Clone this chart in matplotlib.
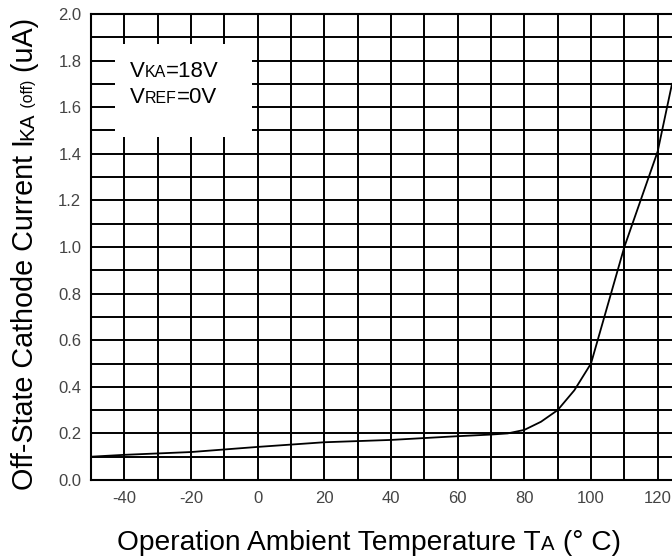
import numpy as np
import matplotlib
matplotlib.use("Agg")
import matplotlib.pyplot as plt
from matplotlib.patches import Rectangle

plt.rcParams['font.family'] = ['Liberation Sans', 'DejaVu Sans']

# curve
temp = [-50, -40, -20, 0, 20, 40, 60, 70, 75, 80, 85, 90, 95, 100, 110, 120, 124.3]
current = [0.10, 0.108, 0.12, 0.142, 0.162, 0.172, 0.188, 0.195, 0.2, 0.215, 0.25,
           0.30, 0.385, 0.5, 1.0, 1.41, 1.70]

x_ticks = [-40, -20, 0, 20, 40, 60, 80, 100, 120]
y_ticks = [0.0, 0.2, 0.4, 0.6, 0.8, 1.0, 1.2, 1.4, 1.6, 1.8, 2.0]

W, H = 672, 558
fig = plt.figure(figsize=(W / 100, H / 100), dpi=100)
ax = fig.add_axes([91 / W, 1 - 480 / H, 1 - 91 / W, (480 - 14) / H])

ax.plot(temp, current, color='black', lw=1.3, zorder=3)

ax.set_xlim(-50, 124.3)
ax.set_ylim(0, 2.0)
ax.set_xticks(x_ticks)
ax.set_xticklabels([str(t) for t in x_ticks])
ax.set_yticks(y_ticks)
ax.set_yticklabels(['%.1f' % v for v in y_ticks])
ax.set_xticks(np.arange(-40, 125, 10), minor=True)
ax.set_yticks(np.arange(0.1, 2.0, 0.1), minor=True)
ax.tick_params(which='both', length=0, labelsize=12, labelcolor='#444444')
ax.tick_params(axis='x', pad=8)
ax.tick_params(axis='y', pad=7)
ax.set_axisbelow(True)
ax.grid(True, which='both', color='black', lw=1.4)
ax.spines['right'].set_visible(False)
for s in ['left', 'bottom', 'top']:
    ax.spines[s].set_linewidth(1.5)

# white box behind the conditions text
ax.add_patch(Rectangle((-42.8, 1.47), 41.1, 0.40, facecolor='white',
                       edgecolor='none', zorder=2.5))

renderer = fig.canvas.get_renderer()


def rich_text(x, y, pieces, base, rotation=0, target=None, anchor='left'):
    # pieces: (text, relative size); x, y in figure pixels (baseline start)
    def layout(size, draw):
        pos = 0
        made = []
        for s, k in pieces:
            if rotation:
                t = fig.text(x / W, (y + pos) / H, s, fontsize=size * k,
                             ha='left', va='baseline', rotation=90,
                             rotation_mode='anchor')
                pos += t.get_window_extent(renderer).height
            else:
                t = fig.text((x + pos) / W, y / H, s, fontsize=size * k,
                             ha='left', va='baseline')
                pos += t.get_window_extent(renderer).width
            made.append(t)
        if not draw:
            for t in made:
                t.remove()
        return pos

    size = base
    if target:
        size = base * target / layout(base, False)
    if anchor == 'center':
        total = layout(size, False)
        if rotation:
            y = y - total / 2
        else:
            x = x - total / 2
    layout(size, True)


# conditions
rich_text(130, H - 77, [('V', 1), ('KA', 0.72), ('=18V', 1)], 16)
rich_text(130, H - 103, [('V', 1), ('REF', 0.72), ('=0V', 1)], 16)

# axis labels
rich_text(369, H - 550, [('Operation Ambient Temperature T', 1), ('A', 0.72),
                         (' (\u00b0 C)', 1)], 18, target=502, anchor='center')
rich_text(33, H - 254, [('Off-State Cathode Current I', 1), ('KA', 0.72),
                        (' (off)', 0.55), (' (uA)', 1)], 20, rotation=90,
          target=472, anchor='center')

fig.savefig('out.png', dpi=100)
